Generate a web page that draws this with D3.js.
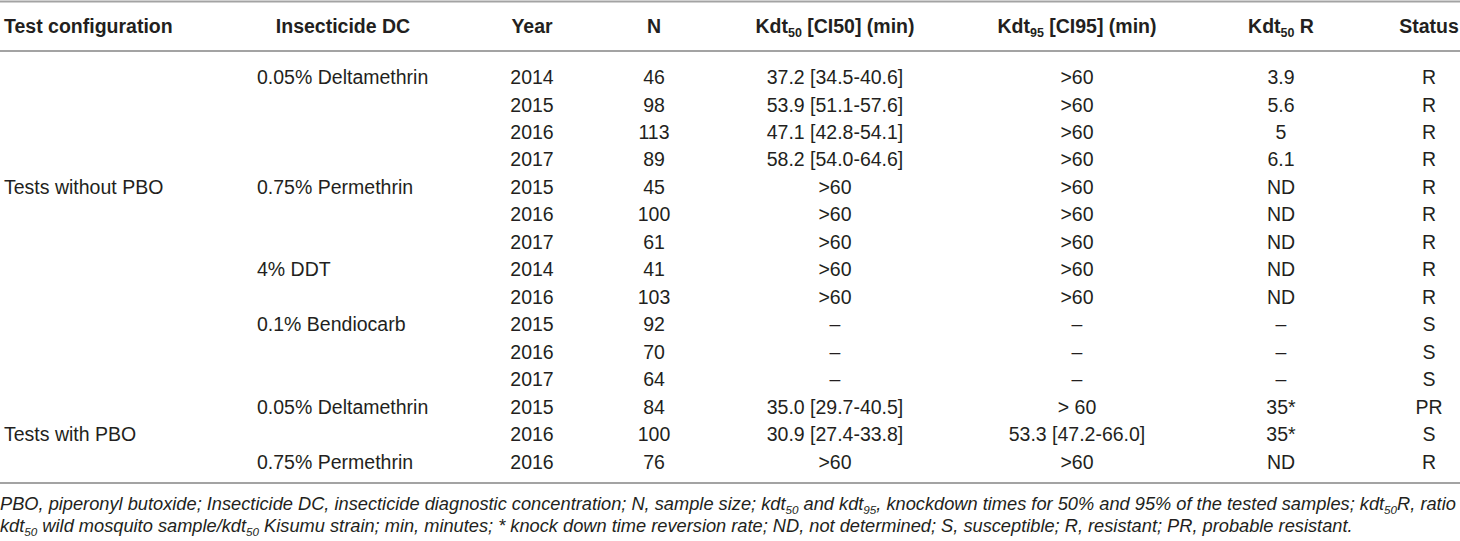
<!DOCTYPE html>
<html>
<head>
<meta charset="utf-8">
<script src="https://cdn.jsdelivr.net/npm/d3@7/dist/d3.min.js"></script>
<style>
  html, body { margin: 0; padding: 0; background: #fff; }
  svg { display: block; }
  text { font-family: "Liberation Sans", Arial, Helvetica, sans-serif; fill: #231f20; }
</style>
</head>
<body>
<svg id="chart" width="1460" height="541"></svg>
<script>
// ---- Data ----
const configLabels = ["", "", "", "", "Tests without PBO", "", "", "", "", "", "", "", "", "Tests with PBO", ""];
const dcLabels = ["0.05% Deltamethrin", "", "", "", "0.75% Permethrin", "", "", "4% DDT", "", "0.1% Bendiocarb", "", "", "0.05% Deltamethrin", "", "0.75% Permethrin"];
const years = ["2014", "2015", "2016", "2017", "2015", "2016", "2017", "2014", "2016", "2015", "2016", "2017", "2015", "2016", "2016"];
const sampleN = ["46", "98", "113", "89", "45", "100", "61", "41", "103", "92", "70", "64", "84", "100", "76"];
const kdt50 = ["37.2 [34.5-40.6]", "53.9 [51.1-57.6]", "47.1 [42.8-54.1]", "58.2 [54.0-64.6]", ">60", ">60", ">60", ">60", ">60", "–", "–", "–", "35.0 [29.7-40.5]", "30.9 [27.4-33.8]", ">60"];
const kdt95 = [">60", ">60", ">60", ">60", ">60", ">60", ">60", ">60", ">60", "–", "–", "–", "> 60", "53.3 [47.2-66.0]", ">60"];
const kdtR = ["3.9", "5.6", "5", "6.1", "ND", "ND", "ND", "ND", "ND", "–", "–", "–", "35*", "35*", "ND"];
const statusVals = ["R", "R", "R", "R", "R", "R", "R", "R", "R", "S", "S", "S", "PR", "S", "R"];

const headers = [
  { key: "config", parts: [["Test configuration", false]] },
  { key: "dc", parts: [["Insecticide DC", false]] },
  { key: "year", parts: [["Year", false]] },
  { key: "n", parts: [["N", false]] },
  { key: "k50", parts: [["Kdt", false], ["50", true], [" [CI50] (min)", false]] },
  { key: "k95", parts: [["Kdt", false], ["95", true], [" [CI95] (min)", false]] },
  { key: "r", parts: [["Kdt", false], ["50", true], [" R", false]] },
  { key: "status", parts: [["Status", false]] }
];

const footLines = [
  [["PBO, piperonyl butoxide; Insecticide DC, insecticide diagnostic concentration; N, sample size; kdt", false], ["50", true], [" and kdt", false], ["95", true], [", knockdown times for 50% and 95% of the tested samples; kdt", false], ["50", true], ["R, ratio", false]],
  [["kdt", false], ["50", true], [" wild mosquito sample/kdt", false], ["50", true], [" Kisumu strain; min, minutes; * knock down time reversion rate; ND, not determined; S, susceptible; R, resistant; PR, probable resistant.", false]]
];

// ---- Layout ----
const W = 1460, H = 541;
const svg = d3.select("#chart");
const rows = d3.range(years.length);

const y = d3.scalePoint().domain(rows).range([77.3, 461.7]);

const colKeys = ["config", "dc", "year", "n", "k50", "k95", "r", "status"];
const colX = d3.scaleOrdinal().domain(colKeys).range([4, 257, 532, 654, 835, 1077, 1281, 1429]);
const headerX = d3.scaleOrdinal().domain(colKeys).range([4, 343, 532, 654, 835, 1077, 1281, 1429]);
const anchor = k => (k === "config" || k === "dc") ? "start" : "middle";
const headerAnchor = k => (k === "config") ? "start" : "middle";

const bodyFont = 19.5, headFont = 19.5;
const SUB = 0.64, SHIFT = 0.2;

// rules
const rules = [1.5, 51, 483];
svg.selectAll("line.rule").data(rules).join("line")
  .attr("class", "rule")
  .attr("x1", 0).attr("x2", W)
  .attr("y1", d => d).attr("y2", d => d)
  .attr("stroke", "#a3a3a3").attr("stroke-width", 2);

// helper for text with subscripts
function richText(sel, parts, size) {
  let shifted = false;
  parts.forEach(([t, sub]) => {
    const ts = sel.append("tspan").text(t).attr("data-sub", sub ? 1 : 0);
    if (sub) { ts.attr("font-size", size * SUB).attr("dy", size * SHIFT); shifted = true; }
    else if (shifted) { ts.attr("dy", -size * SHIFT); shifted = false; }
    else ts.attr("dy", 0);
  });
}

// header
const hy = 26;
headers.forEach(h => {
  const t = svg.append("text")
    .attr("x", headerX(h.key)).attr("y", hy + headFont * 0.35)
    .attr("text-anchor", headerAnchor(h.key))
    .attr("font-weight", "bold").attr("font-size", headFont);
  richText(t, h.parts, headFont);
});

// body
const columns = {
  config: configLabels, dc: dcLabels, year: years, n: sampleN,
  k50: kdt50, k95: kdt95, r: kdtR, status: statusVals
};
colKeys.forEach(k => {
  svg.append("g").selectAll("text").data(rows.filter(i => columns[k][i] !== "")).join("text")
    .attr("x", colX(k))
    .attr("y", i => y(i) + bodyFont * 0.35)
    .attr("text-anchor", anchor(k))
    .attr("font-size", bodyFont)
    .text(i => columns[k][i]);
});

// footnote: measure first line, then fit it to the full width
const footY = [504, 526];
let footSize = 16.5;
const probe = svg.append("text").attr("font-style", "italic").attr("font-size", footSize);
richText(probe, footLines[0], footSize);
const len0 = probe.node().getComputedTextLength();
probe.remove();
footSize = footSize * 1457 / len0;

footLines.forEach((parts, li) => {
  const t = svg.append("text")
    .attr("x", 0).attr("y", footY[li] + footSize * 0.35)
    .attr("font-style", "italic").attr("font-size", footSize);
  richText(t, parts, footSize);
});
</script>
</body>
</html>
